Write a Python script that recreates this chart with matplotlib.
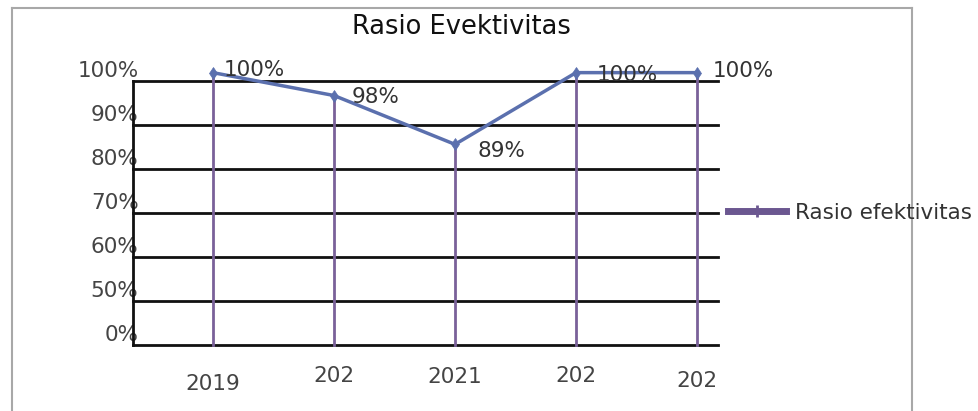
import numpy as np
import matplotlib
matplotlib.use("Agg")
import matplotlib.pyplot as plt
from matplotlib.lines import Line2D

# ---- data ----
categories = ["2019", "202", "2021", "202", "202"]
# marker heights as they sit on the picture's axis (percent)
values = [101.9, 96.7, 85.6, 101.9, 101.9]
data_labels = ["100%", "98%", "89%", "100%", "100%"]
tick_values = [0, 50, 60, 70, 80, 90, 100]
tick_labels = ["0%", "50%", "60%", "70%", "80%", "90%", "100%"]
series_name = "Rasio efektivitas"
title = "Rasio Evektivitas"

plt.rcParams['font.family'] = ['DejaVu Sans']

W, H = 979, 411
fig = plt.figure(figsize=(W / 100, H / 100), dpi=100)

x0, x1 = 133, 718
y_top, y_bot = 81, 345
ax = fig.add_axes([x0 / W, 1 - y_bot / H, (x1 - x0) / W, (y_bot - y_top) / H])

knots_v = np.array([0, 50, 60, 70, 80, 90, 100, 110], dtype=float)
knots_p = np.arange(len(knots_v), dtype=float)
def fwd(v):
    return np.interp(v, knots_v, knots_p, left=0, right=knots_p[-1])
def inv(p):
    return np.interp(p, knots_p, knots_v)
ax.set_yscale('function', functions=(fwd, inv))
ax.set_ylim(0, 100)

xs = np.arange(len(categories))
ax.set_xlim((x0 - 213) / 121, (x1 - 213) / 121)

for t in tick_values:
    ax.axhline(t, color='#111111', lw=2.0, zorder=1, clip_on=False)

purple = '#7a6199'
for x, v in zip(xs, values):
    ax.plot([x, x], [0, v], color=purple, lw=2.0, zorder=2, clip_on=False)

line_color = '#5b70ae'
ax.plot(xs, values, color=line_color, lw=2.5, zorder=3, clip_on=False,
        marker='d', markersize=6, markeredgewidth=0.5, markerfacecolor=line_color,
        markeredgecolor=line_color)

fs_data = 15.5
offsets = [(8, 2), (13, -1), (16, -5), (15, -2), (11, 1)]
for x, v, lab, off in zip(xs, values, data_labels, offsets):
    ax.annotate(lab, (x, v), xytext=off, textcoords='offset points',
                ha='left', va='center', fontsize=fs_data, color='#333333', zorder=4,
                annotation_clip=False)

fs = 15.5
for s in ['top', 'right', 'bottom']:
    ax.spines[s].set_visible(False)
ax.spines['left'].set_color('#111111')
ax.spines['left'].set_linewidth(2.0)
ax.set_yticks(tick_values)
ax.set_yticklabels(tick_labels)
ax.tick_params(axis='y', length=0, pad=-4, labelsize=fs, labelcolor='#444444')
for lab in ax.get_yticklabels():
    lab.set_verticalalignment('bottom')
ax.set_xticks([])
ax.patch.set_alpha(0)

xlab_dy = [-28, -22, -23, -22, -26]
for x, c, dy in zip(xs, categories, xlab_dy):
    ax.annotate(c, (x, 0), xytext=(0, dy), textcoords='offset points',
                ha='center', va='center', fontsize=fs, color='#444444',
                annotation_clip=False)

fig.text(461 / W, 1 - 27 / H, title, ha='center', va='center', fontsize=18.5,
         color='#111111')

leg_handle = Line2D([0], [0], color='#6b5790', lw=5, marker='|', markersize=9,
                    markeredgewidth=2)
fig.legend([leg_handle], [series_name], loc='center left',
           bbox_to_anchor=(728 / W, 1 - 213 / H), frameon=False, fontsize=fs,
           handlelength=2.7, handletextpad=0.4, borderpad=0, borderaxespad=0,
           labelcolor='#333333')

border_color = '#a8a8a8'
fig.add_artist(Line2D([12 / W, 12 / W], [0, 1 - 8 / H], color=border_color, lw=1.5))
fig.add_artist(Line2D([912 / W, 912 / W], [0, 1 - 8 / H], color=border_color, lw=1.5))
fig.add_artist(Line2D([12 / W, 912 / W], [1 - 8 / H, 1 - 8 / H], color=border_color, lw=1.5))

fig.savefig("out.png", dpi=100)
